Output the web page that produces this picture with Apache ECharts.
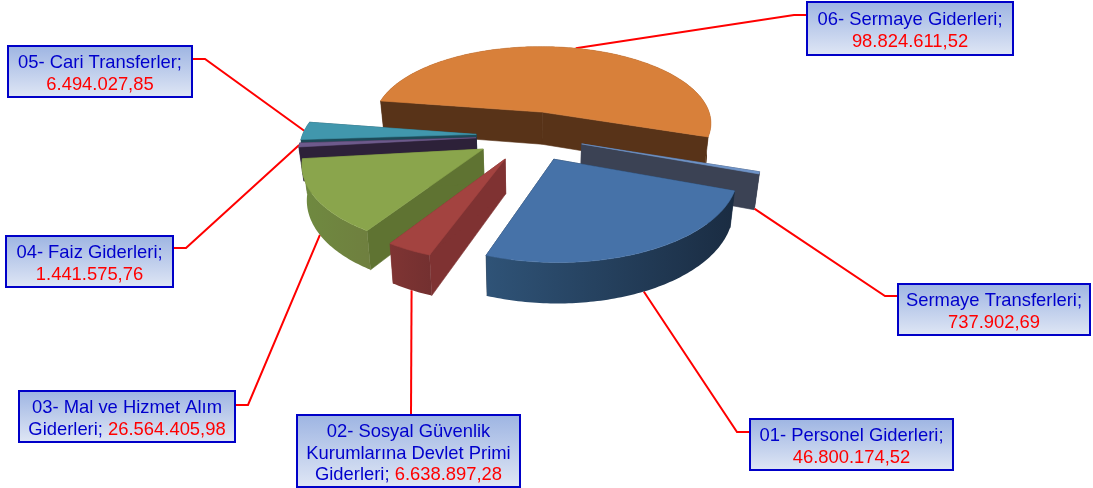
<!DOCTYPE html>
<html>
<head>
<meta charset="utf-8">
<style>
  html, body { margin: 0; padding: 0; background: #fff; }
  #chart { width: 1093px; height: 488px; }
</style>
<script src="https://cdn.jsdelivr.net/npm/echarts@6/dist/echarts.min.js"></script>
</head>
<body>
<div id="chart"></div>
<script>
// data, in pie order (clockwise)
const categories = [
  "01- Personel Giderleri;\n",
  "02- Sosyal Güvenlik\nKurumlarına Devlet Primi\nGiderleri; ",
  "03- Mal ve Hizmet Alım\nGiderleri; ",
  "04- Faiz Giderleri;\n",
  "05- Cari Transferler;\n",
  "06- Sermaye Giderleri;\n",
  "Sermaye Transferleri;\n"
];
const values = [46800174.52, 6638897.28, 26564405.98, 1441575.76, 6494027.85, 98824611.52, 737902.69];

// styles
const topColors = ["#4672a8", "#a34340", "#8aa54c", "#6d5a8c", "#4197ad", "#d8803a", "#6f94c8"];
const cutColors = ["#1a2c42", "#7f3232", "#5f7332", "#2d2139", "#1c4a58", "#583318", "#3b4254"];
const rimFrom = ["#2f5377", "#7f3433", "#6f8a40", "#2d2139", "#1c4a58", "#583318", "#3b4254"];
const rimTo = ["#1a2c42", "#733030", "#6f7f3f", "#2d2139", "#1c4a58", "#583318", "#3b4254"];
const paintOrder = [5, 6, 4, 3, 2, 1, 0];

// label boxes [x, y, w, h], and which end of the box the leader leaves from
const boxes = [
  [750, 419, 203, 51], [297, 415, 223, 72], [19, 391, 216, 51],
  [6, 236, 167, 51], [8, 46, 184, 51], [807, 2, 206, 53], [898, 284, 192, 51]
];
const leaders = [
  [750, 432, 737], [411, 415, 411], [235, 405, 248],
  [173, 248, 186], [192, 59, 205], [807, 15, 794], [898, 296, 885]
];

// projection settings
const startAngle = 110, explode = 0.31, depth = 33.5;
const cx = 530, cy = 135.5, kx = 174, ky = 81, camera = 7, taper = 0.00065;

const total = values.reduce((a, b) => a + b, 0);
const slices = [];
let acc = startAngle;
values.forEach((v) => {
  const sweep = (v / total) * 360;
  slices.push({ a0: acc, a1: acc + sweep, mid: acc + sweep / 2 });
  acc += sweep;
});

function rad(d) {
  return (d * Math.PI) / 180;
}

// ground point (x to the right, z to the viewer), h below the top face
function project(x, z, h) {
  const s = camera / (camera - z);
  return [cx + kx * x * s * (1 - h * taper), cy + ky * z * s + h * s];
}

function slicePoint(sl, r, angle, h) {
  const ox = explode * Math.sin(rad(sl.mid));
  const oz = -explode * Math.cos(rad(sl.mid));
  return project(ox + r * Math.sin(rad(angle)), oz - r * Math.cos(rad(angle)), h);
}

function arc(sl, h) {
  const pts = [];
  const n = Math.max(4, Math.ceil(sl.a1 - sl.a0));
  for (let i = 0; i <= n; i++) {
    pts.push(slicePoint(sl, 1, sl.a0 + ((sl.a1 - sl.a0) * i) / n, h));
  }
  return pts;
}

function poly(points, fill) {
  return {
    type: "polygon",
    shape: { points: points },
    style: { fill: fill, stroke: typeof fill === "string" ? fill : null, lineWidth: 0.6 },
    silent: true
  };
}

function renderSlice(params, api) {
  const i = api.value(0);
  const sl = slices[i];
  const apexTop = slicePoint(sl, 0, sl.a0, 0);
  const apexBase = slicePoint(sl, 0, sl.a0, depth);
  const top = arc(sl, 0);
  const base = arc(sl, depth);
  const rim = new echarts.graphic.LinearGradient(0, 0, 1, 0, [
    { offset: 0, color: rimFrom[i] },
    { offset: 1, color: rimTo[i] }
  ]);
  const children = [
    poly([apexTop, top[0], base[0], apexBase], cutColors[i]),
    poly([apexTop, top[top.length - 1], base[base.length - 1], apexBase], cutColors[i]),
    poly(top.concat(base.slice().reverse()), rim),
    poly([apexTop].concat(top), topColors[i])
  ];
  return { type: "group", children: children };
}

// leaders end on the slice's middle: on the base edge for slices facing the viewer
function renderLeader(params, api) {
  const i = api.value(0);
  const sl = slices[i];
  const l = leaders[i];
  const h = -Math.cos(rad(sl.mid)) > 0.2 ? depth : 0;
  return {
    type: "polyline",
    shape: { points: [[l[0], l[1]], [l[2], l[1]], slicePoint(sl, 1, sl.mid, h)] },
    style: { stroke: "#ff0000", lineWidth: 2, fill: null },
    silent: true
  };
}

function formatValue(v) {
  const parts = v.toFixed(2).split(".");
  return parts[0].replace(/\B(?=(\d{3})+$)/g, ".") + "," + parts[1];
}

function labelRich(i) {
  const lines = categories[i].split("\n").map((t) => (t ? "{n|" + t + "}" : ""));
  return lines.join("\n") + "{v|" + formatValue(values[i]) + "}";
}

const labelElements = [];
boxes.forEach((b, i) => {
  labelElements.push({
    type: "rect",
    shape: { x: b[0], y: b[1], width: b[2], height: b[3] },
    style: {
      fill: new echarts.graphic.LinearGradient(0, 0, 0, 1, [
        { offset: 0, color: "#9db4e2" },
        { offset: 1, color: "#e0e7f5" }
      ]),
      stroke: "#0000c8",
      lineWidth: 2
    },
    z: 10
  });
  labelElements.push({
    type: "text",
    x: b[0] + b[2] / 2,
    y: b[1] + b[3] / 2 + 2.5,
    style: {
      text: labelRich(i),
      align: "center",
      verticalAlign: "middle",
      rich: {
        n: { font: '18.4px "Liberation Sans"', fill: "#0000cc", lineHeight: 21.5 },
        v: { font: '18.4px "Liberation Sans"', fill: "#ff0000", lineHeight: 21.5 }
      }
    },
    z: 11
  });
});

const chart = echarts.init(document.getElementById("chart"));
chart.setOption({
  animation: false,
  backgroundColor: "#ffffff",
  graphic: { elements: labelElements },
  series: [
    {
      type: "custom",
      coordinateSystem: "none",
      z: 1,
      data: values.map((v, i) => [i]),
      renderItem: renderLeader
    },
    {
      type: "custom",
      coordinateSystem: "none",
      z: 2,
      data: paintOrder.map((i) => [i]),
      renderItem: renderSlice
    }
  ]
});
window.addEventListener("resize", () => chart.resize());
</script>
</body>
</html>
